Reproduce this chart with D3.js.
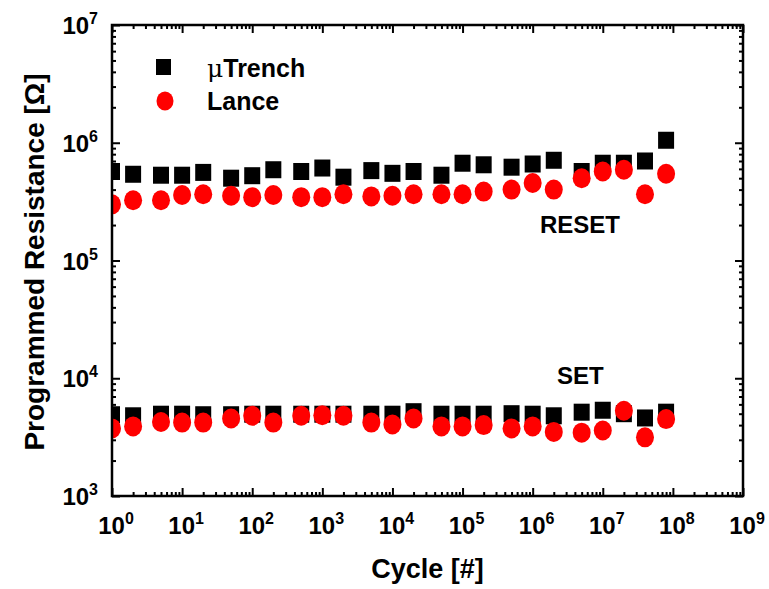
<!DOCTYPE html>
<html>
<head>
<meta charset="utf-8">
<script src="https://cdn.jsdelivr.net/npm/d3@7"></script>
<style>
  body { margin: 0; background: #fff; }
  text { font-family: Arial, "Liberation Sans", sans-serif; font-weight: bold; }
</style>
</head>
<body>
<svg id="chart" width="769" height="589"></svg>
<script>
// cycle counts where the device was read
var cycles = [1, 2, 5, 10, 20, 50, 100, 200, 500, 1e3, 2e3, 5e3, 1e4, 2e4, 5e4,
    1e5, 2e5, 5e5, 1e6, 2e6, 5e6, 1e7, 2e7, 4e7, 8e7];

// uTrench (squares)
var trenchReset = [5.7e5, 5.4e5, 5.3e5, 5.3e5, 5.6e5, 5.0e5, 5.25e5, 5.9e5, 5.7e5, 6.1e5,
    5.1e5, 5.8e5, 5.5e5, 5.7e5, 5.3e5, 6.7e5, 6.5e5, 6.2e5, 6.6e5, 7.1e5,
    5.7e5, 6.7e5, 6.7e5, 7.0e5, 1.05e6];
var trenchSet = [4.9e3, 4.8e3, 4.95e3, 4.95e3, 4.9e3, 4.9e3, 4.95e3, 4.95e3, 4.95e3, 4.95e3,
    4.95e3, 4.95e3, 4.95e3, 5.2e3, 4.95e3, 4.95e3, 4.95e3, 5.0e3, 4.95e3, 4.8e3,
    5.15e3, 5.35e3, 5.0e3, 4.6e3, 5.15e3];

// Lance (circles)
var lanceReset = [3.0e5, 3.25e5, 3.25e5, 3.6e5, 3.65e5, 3.55e5, 3.45e5, 3.6e5, 3.45e5, 3.45e5,
    3.65e5, 3.5e5, 3.55e5, 3.65e5, 3.65e5, 3.65e5, 3.85e5, 4.0e5, 4.55e5, 4.0e5,
    5.0e5, 5.7e5, 5.9e5, 3.65e5, 5.45e5];
var lanceSet = [3.75e3, 3.9e3, 4.25e3, 4.2e3, 4.2e3, 4.55e3, 4.8e3, 4.2e3, 4.8e3, 4.85e3,
    4.8e3, 4.2e3, 4.05e3, 4.55e3, 3.9e3, 3.9e3, 4.0e3, 3.75e3, 3.9e3, 3.5e3,
    3.45e3, 3.6e3, 5.3e3, 3.15e3, 4.5e3];

var xExponents = [0, 1, 2, 3, 4, 5, 6, 7, 8, 9];
var yExponents = [3, 4, 5, 6, 7];

var svg = d3.select("#chart");
// frame edges (note: "top" clashes with window.top, so prefix them)
var pLeft = 112, pRight = 743, pTop = 25, pBottom = 496;

var x = d3.scaleLog().domain([1, 1e9]).range([pLeft, pRight]);
var y = d3.scaleLog().domain([1e3, 1e7]).range([pBottom, pTop]);

// major and minor tick values
function minors(exps) {
    let out = [];
    for (let e of exps.slice(0, -1)) {
        for (let m = 2; m <= 9; m++) out.push(m * Math.pow(10, e));
    }
    return out;
}
var xMajor = xExponents.map(e => Math.pow(10, e));
var yMajor = yExponents.map(e => Math.pow(10, e));

function drawAxis(axisFn, scale, vals, size, transform) {
    svg.append("g")
        .attr("transform", transform)
        .call(axisFn(scale).tickValues(vals).tickSize(size).tickFormat(""))
        .call(g => g.select(".domain").remove())
        .call(g => g.selectAll("line").attr("stroke", "#000").attr("stroke-width", 2));
}

// ticks point inward on all four sides
drawAxis(d3.axisBottom, x, xMajor, -8, "translate(0," + pBottom + ")");
drawAxis(d3.axisBottom, x, minors(xExponents), -4, "translate(0," + pBottom + ")");
drawAxis(d3.axisTop, x, xMajor, -8, "translate(0," + pTop + ")");
drawAxis(d3.axisTop, x, minors(xExponents), -4, "translate(0," + pTop + ")");
drawAxis(d3.axisLeft, y, yMajor, -8, "translate(" + pLeft + ",0)");
drawAxis(d3.axisLeft, y, minors(yExponents), -4, "translate(" + pLeft + ",0)");
drawAxis(d3.axisRight, y, yMajor, -8, "translate(" + pRight + ",0)");
drawAxis(d3.axisRight, y, minors(yExponents), -4, "translate(" + pRight + ",0)");

// tick labels with superscript exponents
svg.selectAll(".xlab")
    .data(xExponents)
    .join("text")
    .attr("class", "xlab")
    .attr("x", d => x(Math.pow(10, d)) + 4)
    .attr("y", 534)
    .attr("text-anchor", "middle")
    .attr("font-size", 24)
    .each(function(d) {
        let t = d3.select(this);
        t.append("tspan").text("10");
        t.append("tspan").attr("dy", -10).attr("font-size", 16).text(d);
    });

svg.selectAll(".ylab")
    .data(yExponents)
    .join("text")
    .attr("class", "ylab")
    .attr("x", 98)
    .attr("y", d => y(Math.pow(10, d)) + 9)
    .attr("text-anchor", "end")
    .attr("font-size", 24)
    .each(function(d) {
        let t = d3.select(this);
        t.append("tspan").text("10");
        t.append("tspan").attr("dy", -10).attr("font-size", 16).text(d);
    });

// axis titles
svg.append("text")
    .attr("x", (pLeft + pRight) / 2)
    .attr("y", 578)
    .attr("text-anchor", "middle")
    .attr("font-size", 27)
    .text("Cycle [#]");

svg.append("text")
    .attr("transform", "translate(44,262) rotate(-90)")
    .attr("text-anchor", "middle")
    .attr("font-size", 28)
    .text("Programmed Resistance [\u03A9]");

// markers, clipped to the frame
svg.append("clipPath").attr("id", "plotclip")
    .append("rect")
    .attr("x", pLeft).attr("y", pTop)
    .attr("width", pRight - pLeft).attr("height", pBottom - pTop);

var plot = svg.append("g").attr("clip-path", "url(#plotclip)");
var sqW = 16, sqH = 17;

function drawSquares(vals) {
    plot.append("g")
        .selectAll("rect")
        .data(vals)
        .join("rect")
        .attr("x", (d, i) => x(cycles[i]) - sqW / 2)
        .attr("y", d => y(d) - sqH / 2)
        .attr("width", sqW)
        .attr("height", sqH)
        .attr("fill", "#000");
}

function drawCircles(vals) {
    plot.append("g")
        .selectAll("ellipse")
        .data(vals)
        .join("ellipse")
        .attr("cx", (d, i) => x(cycles[i]))
        .attr("cy", d => y(d))
        .attr("rx", 9)
        .attr("ry", 10)
        .attr("fill", "#ff0000");
}

drawSquares(trenchReset);
drawSquares(trenchSet);
drawCircles(lanceReset);
drawCircles(lanceSet);

svg.append("rect")
    .attr("x", pLeft).attr("y", pTop)
    .attr("width", pRight - pLeft).attr("height", pBottom - pTop)
    .attr("fill", "none").attr("stroke", "#000").attr("stroke-width", 2.5);

// legend
svg.append("rect").attr("x", 156).attr("y", 59).attr("width", 15).attr("height", 16).attr("fill", "#000");
svg.append("ellipse").attr("cx", 165).attr("cy", 101).attr("rx", 8.5).attr("ry", 9.5).attr("fill", "#ff0000");

var l1 = svg.append("text").attr("x", 207).attr("y", 77).attr("font-size", 25);
l1.append("tspan").attr("font-family", "'DejaVu Serif', 'Liberation Serif', serif").attr("font-weight", "normal").text("\u03BC");
l1.append("tspan").text("Trench");

svg.append("text").attr("x", 207).attr("y", 110).attr("font-size", 25).text("Lance");

// state annotations
svg.append("text").attr("x", 540).attr("y", 233).attr("font-size", 24).text("RESET");
svg.append("text").attr("x", 557).attr("y", 384).attr("font-size", 24).text("SET");
</script>
</body>
</html>
